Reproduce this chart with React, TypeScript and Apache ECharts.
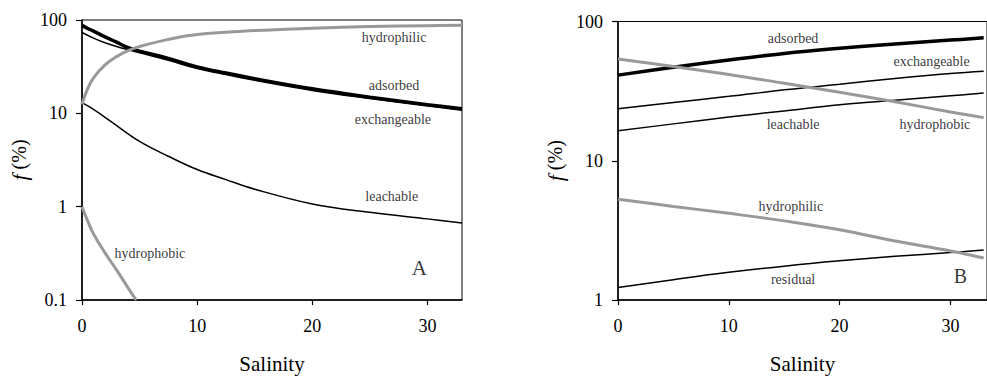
import React, { useEffect, useRef } from "react";
import * as echarts from "echarts";

// Panel A (salinity vs fraction, %)
const A_adsorbed: [number, number][] = [[0, 88], [0.5, 81], [1, 76], [2, 66], [3, 58], [4, 50.5], [5, 46.4], [7.5, 38.8], [10, 31.5], [12.5, 27], [15, 23.5], [20, 18.3], [25, 14.9], [30, 12.4], [33, 11.2]];
const A_exchangeable: [number, number][] = [[0, 73.5], [1, 64], [2, 57], [3, 52], [4, 48], [5, 44.5], [7.5, 37], [10, 30.2], [12.5, 26], [15, 22.6], [20, 17.6], [25, 14.4], [30, 12], [33, 10.8]];
const A_hydrophilic: [number, number][] = [[0, 12.5], [0.5, 18.5], [1, 24], [2, 33], [3, 40.5], [4, 47], [5, 52], [7.5, 62], [10, 70], [15, 77], [20, 81.5], [25, 85], [30, 87], [33, 88]];
const A_leachable: [number, number][] = [[0, 13], [1, 11], [2.5, 8.2], [5, 5.0], [7.5, 3.47], [10, 2.5], [12.5, 1.95], [15, 1.54], [20, 1.07], [25, 0.87], [30, 0.74], [33, 0.67]];
const A_hydrophobic: [number, number][] = [[0, 1.0], [0.5, 0.7], [1, 0.51], [2, 0.32], [3, 0.21], [4, 0.135], [4.7, 0.1]];

// Panel B
const B_adsorbed: [number, number][] = [[0, 41.2], [5, 47], [10, 53], [15, 59], [20, 64.2], [25, 69], [30, 73.5], [33, 76.3]];
const B_exchangeable: [number, number][] = [[0, 23.6], [5, 26.2], [10, 29], [15, 32.3], [20, 35.4], [25, 39], [30, 42.4], [33, 44]];
const B_leachable: [number, number][] = [[0, 16.4], [5, 18.4], [10, 20.6], [15, 22.8], [20, 25.2], [25, 27.2], [30, 29.3], [33, 30.6]];
const B_hydrophobic: [number, number][] = [[0, 53.7], [5, 47.5], [10, 41.7], [15, 36], [20, 31], [25, 26.5], [30, 22.4], [33, 20.4]];
const B_hydrophilic: [number, number][] = [[0, 5.3], [5, 4.7], [10, 4.19], [15, 3.7], [20, 3.2], [25, 2.65], [30, 2.25], [33, 2.0]];
const B_residual: [number, number][] = [[0, 1.23], [5, 1.4], [10, 1.58], [15, 1.75], [20, 1.91], [25, 2.06], [30, 2.19], [33, 2.29]];

// Curve labels [x, y, text]
const A_labels: [number, number, string][] = [[27.1, 65, "hydrophilic"], [27.1, 19.8, "adsorbed"], [27, 8.6, "exchangeable"], [26.9, 1.3, "leachable"], [5.9, 0.316, "hydrophobic"]];
const B_labels: [number, number, string][] = [[15.8, 75.5, "adsorbed"], [28.3, 51.5, "exchangeable"], [15.8, 18.3, "leachable"], [28.6, 18.1, "hydrophobic"], [15.6, 4.67, "hydrophilic"], [15.8, 1.41, "residual"]];
const panelLetters: [number, number, string][][] = [[[29.3, 0.22, "A"]], [[30.9, 1.476, "B"]]];

const xTickLabels = ["0", "10", "20", "30"];
const yTickLabelsA = ["0.1", "1", "10", "100"];
const yTickLabelsB = ["1", "10", "100"];

const FONT = "'Liberation Serif', 'Times New Roman', serif";
const GRAY = "#999999";

export default function App() {
  const ref = useRef<HTMLDivElement>(null);
  useEffect(() => {
    if (!ref.current) return;
    const chart = echarts.init(ref.current, null, { renderer: "svg" });
    const xAxisBase = (idx: number, max: number) => ({
      type: "value" as const,
      gridIndex: idx,
      min: 0,
      max,
      interval: 10,
      name: "Salinity",
      nameLocation: "middle" as const,
      nameGap: 53,
      nameTextStyle: { fontFamily: FONT, fontSize: 21, color: "#000" },
      axisLine: { show: true, lineStyle: { color: "#000", width: 1.5 } },
      axisTick: { show: true, length: 5, lineStyle: { color: "#000", width: 1.2 } },
      axisLabel: {
        fontFamily: FONT, fontSize: 18, color: "#000", margin: 17, showMaxLabel: false,
        formatter: (v: number) => (xTickLabels.includes(String(v)) ? String(v) : ""),
      },
      splitLine: { show: false },
    });
    const yAxisBase = (idx: number, min: number, labels: string[]) => ({
      type: "log" as const,
      gridIndex: idx,
      logBase: 10,
      min,
      max: 100,
      name: "{i|f} (%)",
      nameLocation: "middle" as const,
      nameGap: 52,
      nameTextStyle: {
        fontFamily: FONT, fontSize: 20, color: "#000",
        rich: {
          i: { fontFamily: FONT, fontStyle: "italic", fontSize: 22, color: "#000" },
        },
      },
      axisLine: { show: true, lineStyle: { color: "#000", width: 1.5 } },
      axisTick: { show: true, length: 6, lineStyle: { color: "#000", width: 1.2 } },
      minorTick: { show: false },
      axisLabel: {
        fontFamily: FONT, fontSize: 18, color: "#000", margin: 15,
        formatter: (v: number) => {
          const s = v < 1 ? v.toFixed(1) : String(Math.round(v));
          return labels.includes(s) ? s : "";
        },
      },
      splitLine: { show: false },
    });
    const line = (name: string, data: [number, number][], idx: number, kind: "thick" | "thin" | "gray") => ({
      type: "line" as const,
      name,
      xAxisIndex: idx,
      yAxisIndex: idx,
      data,
      smooth: 0.4,
      showSymbol: false,
      symbol: "none",
      clip: true,
      lineStyle: {
        color: kind === "gray" ? GRAY : "#000",
        width: kind === "thick" ? 3.5 : kind === "thin" ? 1.5 : 3,
      },
      z: kind === "gray" ? 3 : 2,
    });
    const labelSeries = (data: [number, number, string][], idx: number, size: number) => ({
      type: "scatter" as const,
      xAxisIndex: idx,
      yAxisIndex: idx,
      symbolSize: 0,
      silent: true,
      data: data.map((d) => ({ value: [d[0], d[1]], name: d[2] })),
      label: {
        show: true, position: "inside" as const, formatter: "{b}",
        fontFamily: FONT, fontSize: size, color: "#000",
      },
      z: 5,
    });
    chart.setOption({
      animation: false,
      backgroundColor: "#fff",
      textStyle: { fontFamily: FONT },
      grid: [
        { left: 82, top: 20, width: 380, height: 284, show: true, borderColor: "#000", borderWidth: 1, backgroundColor: "transparent" },
        { left: 618, top: 21.5, width: 370, height: 284.5, show: true, borderColor: "#000", borderWidth: 1, backgroundColor: "transparent" },
      ],
      xAxis: [xAxisBase(0, 33), xAxisBase(1, 33.3)],
      yAxis: [yAxisBase(0, 0.1, yTickLabelsA), yAxisBase(1, 1, yTickLabelsB)],
      series: [
        line("adsorbed", A_adsorbed, 0, "thick"),
        line("exchangeable", A_exchangeable, 0, "thin"),
        line("leachable", A_leachable, 0, "thin"),
        line("hydrophilic", A_hydrophilic, 0, "gray"),
        line("hydrophobic", A_hydrophobic, 0, "gray"),
        line("adsorbed", B_adsorbed, 1, "thick"),
        line("exchangeable", B_exchangeable, 1, "thin"),
        line("leachable", B_leachable, 1, "thin"),
        line("residual", B_residual, 1, "thin"),
        line("hydrophobic", B_hydrophobic, 1, "gray"),
        line("hydrophilic", B_hydrophilic, 1, "gray"),
        labelSeries(A_labels, 0, 14),
        labelSeries(B_labels, 1, 14),
        labelSeries(panelLetters[0], 0, 21),
        labelSeries(panelLetters[1], 1, 20),
      ],
    });
    return () => chart.dispose();
  }, []);
  return <div ref={ref} style={{ position: "fixed", left: 0, top: 0, width: 987, height: 379, background: "#fff" }} />;
}
